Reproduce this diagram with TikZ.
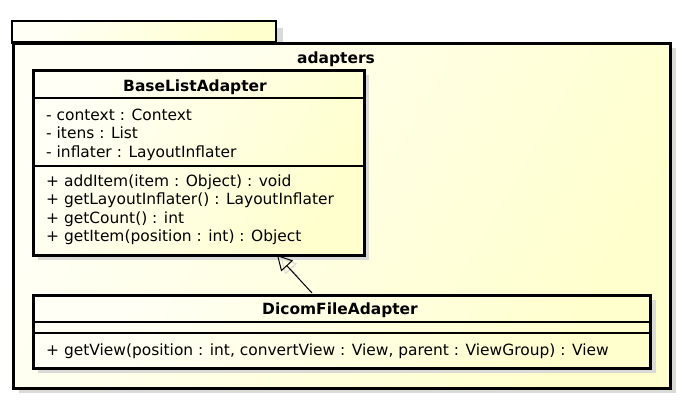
\documentclass[tikz,border=0pt]{standalone}
\usepackage{fontspec}
\setmainfont{DejaVu Sans}
\usetikzlibrary{arrows.meta,calc}
\definecolor{ylA}{RGB}{255,255,246}
\definecolor{ylB}{RGB}{255,255,205}
\definecolor{shad}{RGB}{218,218,214}
\tikzset{
  boxfill/.style={left color=ylA, right color=ylB, shading angle=60},
  outline/.style={draw=black, line width=3pt},
  shadowbox/.style={fill=shad, draw=none},
  sepline/.style={draw=black, line width=1.1pt},
  txt/.style={font=\fontsize{15.5}{18}\selectfont, inner sep=0pt, anchor=base west},
  ttl/.style={font=\fontsize{15.5}{18}\selectfont\bfseries, inner sep=0pt, anchor=base},
  inherit/.style={draw=black, line width=1pt, -{Triangle[open, length=15pt, width=16pt, line width=1pt]}},
}
\begin{document}
\begin{tikzpicture}[x=1bp,y=-1bp]
\useasboundingbox (0,0) rectangle (684,402);
% package shadows
\fill[shadowbox] (19,48) rectangle (676,393);
\fill[shadowbox] (276,28) rectangle (283,42);
% package tab and body
\shade[boxfill] (12,21) rectangle (276,42);
\draw[outline] (12,21) rectangle (276,42);
\node[boxfill, outline, anchor=north west, minimum width=657bp, minimum height=345bp, inner sep=0pt] (pkg) at (12,42) {};
\node[ttl] (pkgname) at (336,63) {adapters};
% BaseListAdapter
\fill[shadowbox] (38,75) rectangle (369,260);
\node[boxfill, outline, anchor=north west, minimum width=331bp, minimum height=185bp, inner sep=0pt] (base) at (32,69) {};
\draw[sepline] (32,98) -- (363,98);
\draw[sepline] (32,166) -- (363,166);
\node[ttl] (basename) at (195,91) {BaseListAdapter};
\node[txt] (a1) at (46,120) {- context : Context};
\node[txt] (a2) at (46,138.5) {- itens : List};
\node[txt] (a3) at (46,157.5) {- inflater : LayoutInflater};
\node[txt] (m1) at (46,186) {+ addItem(item : Object) : void};
\node[txt] (m2) at (46,204.5) {+ getLayoutInflater() : LayoutInflater};
\node[txt] (m3) at (46,223) {+ getCount() : int};
\node[txt] (m4) at (46,241.5) {+ getItem(position : int) : Object};
% DicomFileAdapter
\fill[shadowbox] (38,300) rectangle (656,373);
\node[boxfill, outline, anchor=north west, minimum width=617bp, minimum height=73bp, inner sep=0pt] (dicom) at (32,294) {};
\draw[sepline] (32,322) -- (649,322);
\draw[sepline] (32,333) -- (649,333);
\node[ttl] (dicomname) at (340,314) {DicomFileAdapter};
\node[txt] (dm1) at (46,355) {+ getView(position : int, convertView : View, parent : ViewGroup) : View};
% generalization
\coordinate (gfrom) at (312,293);
\coordinate (gto) at (277,255);
\draw[draw=shad, line width=1pt, -{Triangle[open, length=15pt, width=16pt, line width=1pt]}] ($(gto)!0.5!(gfrom)+(4,3)$) -- ($(gto)+(4,3)$);
\draw[inherit] (gfrom) -- (gto);
\end{tikzpicture}
\end{document}
